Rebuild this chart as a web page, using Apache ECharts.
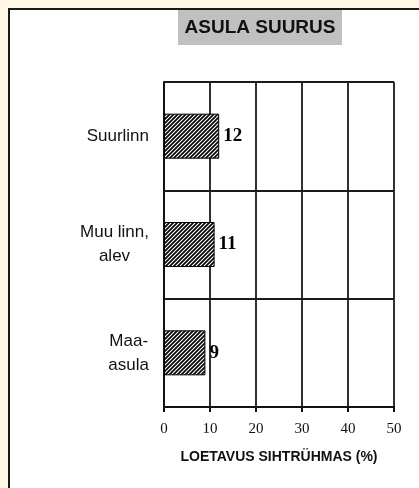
<!DOCTYPE html>
<html>
<head>
<meta charset="utf-8">
<script src="https://cdn.jsdelivr.net/npm/echarts@6/dist/echarts.min.js"></script>
<style>
html,body{margin:0;padding:0;width:419px;height:488px;background:#FFF8E6;overflow:hidden;}
#frame{position:absolute;left:8px;top:8px;width:419px;height:488px;background:#fff;border-left:2px solid #1a1a1a;border-top:2px solid #1a1a1a;box-sizing:border-box;}
#chart{position:absolute;left:0;top:0;width:419px;height:488px;}
</style>
</head>
<body>
<div id="frame"></div>
<div id="chart"></div>
<script>
const titleText = 'ASULA SUURUS';
const categories = ['Suurlinn', 'Muu linn,\nalev', 'Maa-\nasula'];
const values = [12, 11, 9];
const xTicks = [0, 10, 20, 30, 40, 50];
const xAxisName = 'LOETAVUS SIHTRÜHMAS (%)';

// hatch pattern
const tile = document.createElement('canvas');
tile.width = 4; tile.height = 4;
const c = tile.getContext('2d');
c.fillStyle = '#fff'; c.fillRect(0, 0, 4, 4);
c.strokeStyle = '#000'; c.lineWidth = 1.7;
c.beginPath();
c.moveTo(-1, 5); c.lineTo(5, -1);
c.moveTo(-1, 1); c.lineTo(1, -1);
c.moveTo(3, 5); c.lineTo(5, 3);
c.stroke();

const chart = echarts.init(document.getElementById('chart'), null, {renderer: 'canvas'});
chart.setOption({
  backgroundColor: 'transparent',
  animation: false,
  graphic: [{
    type: 'rect', left: 178, top: 10, shape: {width: 164, height: 35},
    style: {fill: '#C0C0C0'}, z: 1
  }, {
    type: 'text', x: 260, y: 28, z: 2,
    style: {text: titleText, fill: '#111', font: 'bold 19px "Liberation Sans", Arial, sans-serif', align: 'center', verticalAlign: 'middle'}
  }],
  grid: {left: 164, right: 25, top: 82, bottom: 81, containLabel: false},
  xAxis: {
    type: 'value', min: xTicks[0], max: xTicks[xTicks.length - 1], interval: 10,
    axisLine: {show: true, lineStyle: {color: '#111', width: 2}},
    axisTick: {show: true, length: 5, lineStyle: {color: '#111', width: 2}},
    axisLabel: {margin: 15, color: '#111', fontFamily: '"Liberation Serif", "Times New Roman", serif', fontSize: 15},
    splitLine: {show: true, lineStyle: {color: '#1a1a1a', width: 1.8}},
    name: xAxisName, nameLocation: 'middle', nameGap: 43,
    nameTextStyle: {color: '#111', fontFamily: '"Liberation Sans", Arial, sans-serif', fontWeight: 'bold', fontSize: 14}
  },
  yAxis: {
    type: 'category', data: categories, inverse: true,
    axisLine: {show: true, lineStyle: {color: '#111', width: 2}},
    axisTick: {show: false},
    splitLine: {show: true, lineStyle: {color: '#1a1a1a', width: 1.8}},
    axisLabel: {
      margin: 15, align: 'right',
      formatter: function (v) { return v.split('\n').map(s => '{a|' + s + '}').join('\n'); },
      rich: {a: {align: 'center', color: '#111', fontFamily: '"Liberation Sans", Arial, sans-serif', fontSize: 17, lineHeight: 24}}
    }
  },
  series: [{
    type: 'bar', data: values, barWidth: 45,
    itemStyle: {color: {image: tile, repeat: 'repeat'}, borderColor: '#000', borderWidth: 1},
    label: {show: true, position: 'right', distance: 4, color: '#000',
      fontFamily: '"Liberation Serif", "Times New Roman", serif', fontWeight: 'bold', fontSize: 19}
  }]
});
</script>
</body>
</html>
